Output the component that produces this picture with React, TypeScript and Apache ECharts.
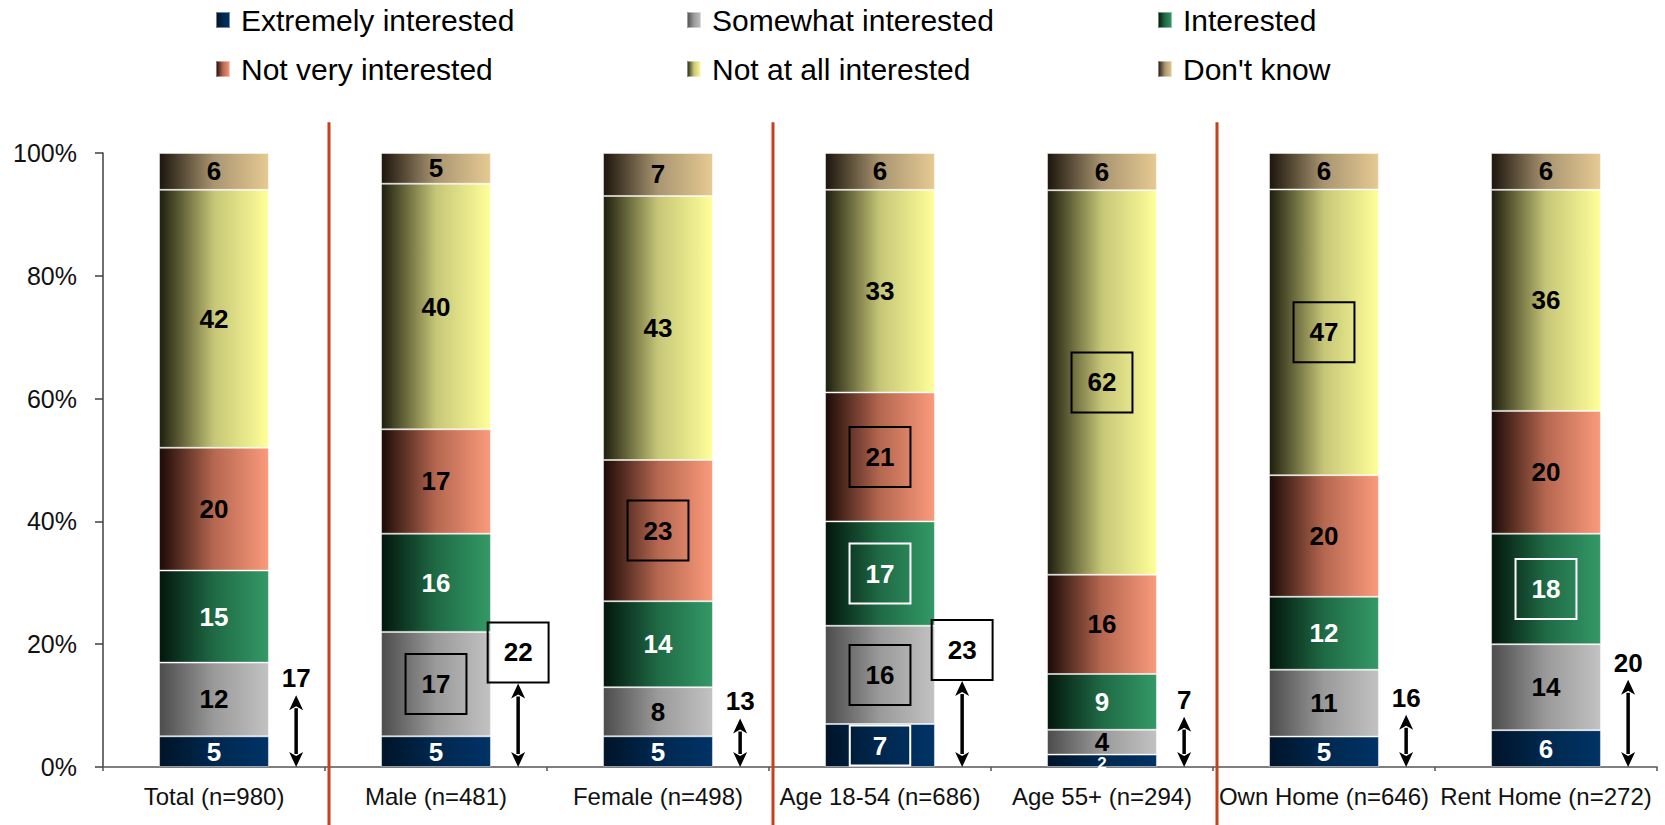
import React, { useEffect, useRef } from 'react';
import * as echarts from 'echarts';

// Survey breakdown by respondent group (percent of each group)
const categories = [
  'Total (n=980)',
  'Male (n=481)',
  'Female (n=498)',
  'Age 18-54 (n=686)',
  'Age 55+ (n=294)',
  'Own Home (n=646)',
  'Rent Home (n=272)',
];

const seriesNames = [
  'Extremely interested',
  'Somewhat interested',
  'Interested',
  'Not very interested',
  'Not at all interested',
  "Don't know",
];

const extremely = [5, 5, 5, 7, 2, 5, 6];
const somewhat = [12, 17, 8, 16, 4, 11, 14];
const interested = [15, 16, 14, 17, 9, 12, 18];
const notVery = [20, 17, 23, 21, 16, 20, 20];
const notAtAll = [42, 40, 43, 33, 62, 47, 36];
const dontKnow = [6, 5, 7, 6, 6, 6, 6];

// Top-two-box (extremely + somewhat) callouts
const topTwo = [17, 22, 13, 23, 7, 16, 20];
const topTwoArrowReach = [11.7, 13.6, 7.9, 14, 8.2, 8.5, 14.2];
const topTwoBoxed = [false, true, false, true, false, false, false];

// Highlighted cells: [category index, series index, frame colour]
const highlighted: [number, number, string][] = [
  [1, 1, '#000'],
  [2, 3, '#000'],
  [3, 0, '#fff'],
  [3, 1, '#000'],
  [3, 2, '#fff'],
  [3, 3, '#000'],
  [4, 4, '#000'],
  [5, 4, '#000'],
  [6, 2, '#fff'],
];

// Group dividers sit before these category indices
const groupBreaks = [1, 3, 5];

const yTicks = [0, 20, 40, 60, 80, 100];

const FONT = '"Liberation Sans", Arial, Helvetica, sans-serif';

const palette = [
  ['#001428', '#00284f', '#003366'],
  ['#4c4c4c', '#9a9a9a', '#c2c2c2'],
  ['#03160c', '#1f6a45', '#339966'],
  ['#1c0a06', '#b56750', '#fb9a7b'],
  ['#1e1e0e', '#c6c678', '#ffff99'],
  ['#1c150c', '#a99571', '#e6ca92'],
];
const labelColors = ['#fff', '#000', '#fff', '#000', '#000', '#000'];

const grad = (c: string[]) => ({
  type: 'linear',
  x: 0,
  y: 0,
  x2: 1,
  y2: 0,
  colorStops: [
    { offset: 0, color: c[0] },
    { offset: 0.5, color: c[1] },
    { offset: 1, color: c[2] },
  ],
});

export default function App() {
  const ref = useRef<HTMLDivElement>(null);

  useEffect(() => {
    if (!ref.current) return;
    const chart = echarts.init(ref.current, null, { renderer: 'svg' });

    const rows = [extremely, somewhat, interested, notVery, notAtAll, dontKnow];
    const totals = categories.map((_, i) => rows.reduce((s, r) => s + r[i], 0));

    const barSeries = rows.map((vals, s) => ({
      name: seriesNames[s],
      type: 'bar',
      stack: 'share',
      barWidth: '49.5%',
      emphasis: { disabled: true },
      itemStyle: {
        color: grad(palette[s]),
        borderColor: 'rgba(255,255,255,0.45)',
        borderWidth: 1,
      },
      label: {
        show: true,
        position: 'inside',
        color: labelColors[s],
        fontSize: 26,
        lineHeight: 26,
        fontWeight: 'bold',
        fontFamily: FONT,
        textBorderWidth: 0,
        formatter: (p: any) => String(vals[p.dataIndex]),
      },
      data: vals.map((v, i) => {
        const item: any = { value: (v / totals[i]) * 100 };
        const hl = highlighted.find((h) => h[0] === i && h[1] === s);
        if (hl) {
          item.label = {
            borderColor: hl[2],
            borderWidth: 2,
            padding: String(v).length === 1 ? [7, 23] : [17, 16],
          };
        } else if (v < 3) {
          // very thin slice: smaller figure so it stays within the bar
          item.label = { fontSize: 17, lineHeight: 14, offset: [0, 3] };
        }
        return item;
      }),
    }));

    const arrowSeries = {
      type: 'custom',
      silent: true,
      z: 5,
      encode: { x: 0, y: 1 },
      data: categories.map((_, i) => [i, topTwoArrowReach[i], topTwo[i], topTwoBoxed[i] ? 1 : 0]),
      renderItem: (_params: any, api: any) => {
        const idx = api.value(0);
        const reach = api.value(1);
        const txt = String(api.value(2));
        const boxed = api.value(3) === 1;
        const band = api.size([1, 0])[0];
        const base = api.coord([idx, 0]);
        const tip = api.coord([idx, reach]);
        const x = base[0] + band * 0.37;
        const y0 = base[1];
        const y1 = tip[1];
        const hw = 7;
        const hh = 15;
        const children: any[] = [
          {
            type: 'line',
            shape: { x1: x, y1: y1 + hh - 2, x2: x, y2: y0 - hh + 2 },
            style: { stroke: '#000', lineWidth: 3.5 },
          },
          {
            type: 'polygon',
            shape: { points: [[x, y1], [x - hw, y1 + hh], [x, y1 + hh - 4], [x + hw, y1 + hh]] },
            style: { fill: '#000' },
          },
          {
            type: 'polygon',
            shape: { points: [[x, y0], [x - hw, y0 - hh], [x, y0 - hh + 4], [x + hw, y0 - hh]] },
            style: { fill: '#000' },
          },
        ];
        if (boxed) {
          children.push({
            type: 'text',
            x,
            y: y1 - 1,
            style: {
              text: txt,
              fontSize: 26,
              lineHeight: 26,
              fontWeight: 'bold',
              fontFamily: FONT,
              fill: '#000',
              align: 'center',
              verticalAlign: 'bottom',
              padding: [17, 16],
              borderColor: '#000',
              borderWidth: 2,
            },
          });
        } else {
          children.push({
            type: 'text',
            x,
            y: y1 - 4,
            style: {
              text: txt,
              fontSize: 26,
              lineHeight: 26,
              fontWeight: 'bold',
              fontFamily: FONT,
              fill: '#000',
              align: 'center',
              verticalAlign: 'bottom',
            },
          });
        }
        return { type: 'group', children };
      },
    };

    const dividerSeries = {
      type: 'custom',
      silent: true,
      z: 1,
      encode: { x: 0, y: 1 },
      data: groupBreaks.map((b) => [b, 0]),
      renderItem: (_params: any, api: any) => {
        const idx = api.value(0);
        const left = api.coord([idx - 1, 0])[0];
        const right = api.coord([idx, 0])[0];
        const x = (left + right) / 2 + 4;
        const top = api.coord([idx, 105])[1];
        return {
          type: 'line',
          shape: { x1: x, y1: top, x2: x, y2: api.getHeight() },
          style: { stroke: '#c8401a', lineWidth: 3 },
        };
      },
    };

    const legendLefts = [210, 681, 1152];
    const legendTops = [0, 49];
    const legends = seriesNames.map((name, k) => ({
      data: [name],
      left: legendLefts[k % 3],
      top: legendTops[Math.floor(k / 3)],
      selectedMode: false,
      itemWidth: 14,
      itemHeight: 16,
      icon: 'rect',
      textStyle: {
        fontSize: 30,
        fontFamily: FONT,
        color: '#000',
        padding: [0, 0, 0, 6],
      },
    }));

    chart.setOption({
      animation: false,
      backgroundColor: '#fff',
      grid: { left: 103, right: 8, top: 153, bottom: 58, containLabel: false },
      legend: legends,
      xAxis: {
        type: 'category',
        data: categories,
        axisLine: { lineStyle: { color: '#555', width: 1.5 } },
        axisTick: { show: true, length: 4, lineStyle: { color: '#555', width: 1.5 } },
        axisLabel: {
          fontSize: 24,
          fontFamily: FONT,
          color: '#111',
          margin: 17,
          interval: 0,
        },
      },
      yAxis: {
        type: 'value',
        min: yTicks[0],
        max: yTicks[yTicks.length - 1],
        interval: yTicks[1] - yTicks[0],
        splitLine: { show: false },
        axisLine: { show: true, lineStyle: { color: '#404040', width: 1.5 } },
        axisTick: { show: true, length: 8, lineStyle: { color: '#404040', width: 1.5 } },
        axisLabel: {
          formatter: '{value}%',
          fontSize: 25,
          fontFamily: FONT,
          color: '#111',
          margin: 26,
        },
      },
      series: [...barSeries, dividerSeries, arrowSeries],
    });

    return () => chart.dispose();
  }, []);

  return (
    <div
      ref={ref}
      style={{ position: 'fixed', left: 0, top: 0, width: 1665, height: 825 }}
    />
  );
}
